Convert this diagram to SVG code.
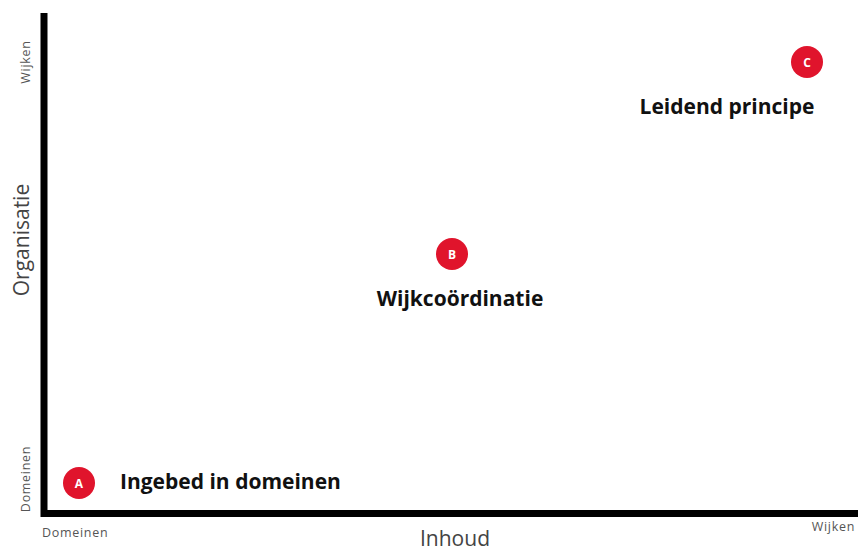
<svg xmlns="http://www.w3.org/2000/svg" width="858" height="551" viewBox="0 0 858 551">
<style>
.axis{stroke:#000;stroke-width:7;fill:none}
.tick{font-family:"Open Sans","Liberation Sans",sans-serif;font-size:12.5px;letter-spacing:0.7px;fill:#555}
.title{font-family:"Open Sans","Liberation Sans",sans-serif;font-size:21px;fill:#444}
.dot{fill:#E0142C}
.letter{font-family:"Open Sans","Liberation Sans",sans-serif;font-size:12px;font-weight:bold;fill:#fff;text-anchor:middle}
.label{font-family:"Open Sans","Liberation Sans",sans-serif;font-size:21px;font-weight:bold;fill:#111}
</style>
<rect width="858" height="551" fill="#fff"/>
<g id="axes">
<path class="axis" d="M44 13 V513.5 H858"/>
<text class="tick" transform="translate(30,62) rotate(-90)" text-anchor="middle">Wijken</text>
<text class="tick" transform="translate(30,479) rotate(-90)" text-anchor="middle">Domeinen</text>
<text class="title" transform="translate(29,240) rotate(-90)" text-anchor="middle">Organisatie</text>
<text class="tick" x="42" y="537">Domeinen</text>
<text class="tick" x="855" y="531" text-anchor="end">Wijken</text>
<text class="title" x="455" y="546" text-anchor="middle">Inhoud</text>
</g>
<g id="A">
<circle class="dot" cx="79" cy="483" r="16"/>
<text class="letter" x="79" y="487.5">A</text>
<text class="label" x="120" y="489">Ingebed in domeinen</text>
</g>
<g id="B">
<circle class="dot" cx="452" cy="254" r="16"/>
<text class="letter" x="452" y="258.5">B</text>
<text class="label" x="460" y="306" text-anchor="middle">Wijkcoördinatie</text>
</g>
<g id="C">
<circle class="dot" cx="807" cy="62" r="16"/>
<text class="letter" x="807" y="66.5">C</text>
<text class="label" x="727" y="114" text-anchor="middle">Leidend principe</text>
</g>
<g id="connectors"></g>
</svg>
